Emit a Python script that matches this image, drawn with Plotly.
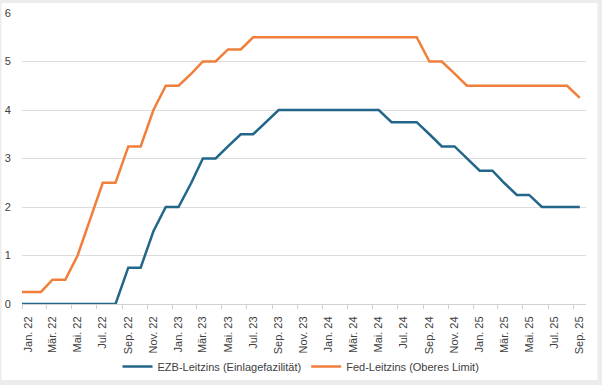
import plotly.graph_objects as go

# ---- data ----
months = [
    "2022-01", "2022-02", "2022-03", "2022-04", "2022-05", "2022-06",
    "2022-07", "2022-08", "2022-09", "2022-10", "2022-11", "2022-12",
    "2023-01", "2023-02", "2023-03", "2023-04", "2023-05", "2023-06",
    "2023-07", "2023-08", "2023-09", "2023-10", "2023-11", "2023-12",
    "2024-01", "2024-02", "2024-03", "2024-04", "2024-05", "2024-06",
    "2024-07", "2024-08", "2024-09", "2024-10", "2024-11", "2024-12",
    "2025-01", "2025-02", "2025-03", "2025-04", "2025-05", "2025-06",
    "2025-07", "2025-08", "2025-09",
]
ezb = [
    0, 0, 0, 0, 0, 0, 0, 0, 0.75, 0.75, 1.5, 2.0,
    2.0, 2.5, 3.0, 3.0, 3.25, 3.5, 3.5, 3.75, 4.0, 4.0, 4.0, 4.0,
    4.0, 4.0, 4.0, 4.0, 4.0, 3.75, 3.75, 3.75, 3.5, 3.25, 3.25, 3.0,
    2.75, 2.75, 2.5, 2.25, 2.25, 2.0, 2.0, 2.0, 2.0,
]
fed = [
    0.25, 0.25, 0.5, 0.5, 1.0, 1.75, 2.5, 2.5, 3.25, 3.25, 4.0, 4.5,
    4.5, 4.75, 5.0, 5.0, 5.25, 5.25, 5.5, 5.5, 5.5, 5.5, 5.5, 5.5,
    5.5, 5.5, 5.5, 5.5, 5.5, 5.5, 5.5, 5.5, 5.0, 5.0, 4.75, 4.5,
    4.5, 4.5, 4.5, 4.5, 4.5, 4.5, 4.5, 4.5, 4.25,
]
tick_months = months[::2]
tick_text = [
    "Jan. 22", "Mär. 22", "Mai. 22", "Jul. 22", "Sep. 22", "Nov. 22",
    "Jan. 23", "Mär. 23", "Mai. 23", "Jul. 23", "Sep. 23", "Nov. 23",
    "Jan. 24", "Mär. 24", "Mai. 24", "Jul. 24", "Sep. 24", "Nov. 24",
    "Jan. 25", "Mär. 25", "Mai. 25", "Jul. 25", "Sep. 25",
]
y_ticks = [0, 1, 2, 3, 4, 5, 6]
name_ezb = "EZB-Leitzins (Einlagefazilität)"
name_fed = "Fed-Leitzins (Oberes Limit)"

# points sit in the middle of each month; the line begins at the axis' left edge
x = [m + "-16" for m in months]
x[0] = months[0] + "-01"

FONT = "Liberation Sans, Arial, sans-serif"
TXT = "#404040"
GRID = "#dcdcdc"
SURROUND = "#ececec"

fig = go.Figure()
fig.add_trace(go.Scatter(x=x, y=ezb, mode="lines", name=name_ezb,
                         line=dict(color="#22668a", width=2.5)))
fig.add_trace(go.Scatter(x=x, y=fed, mode="lines", name=name_fed,
                         line=dict(color="#f07f3c", width=2.5)))

W, H = 602, 385
L, R, T, B = 22, 16, 13, 81
pw, ph = W - L - R, H - T - B

def px_x(p):
    return (p - L) / pw

def px_y(p):
    return (H - p - B) / ph

# light grey surround of the white chart area (thin on the left, wider elsewhere)
for (xa, xb, ya, yb) in [(0, 1.5, 0, H), (597.5, W, 0, H), (0, W, 0, 3), (0, W, 380, H)]:
    fig.add_shape(type="rect", xref="paper", yref="paper", layer="below",
                  x0=px_x(xa), x1=px_x(xb), y0=px_y(yb), y1=px_y(ya),
                  fillcolor=SURROUND, line=dict(width=0))

fig.update_layout(
    width=W, height=H,
    margin=dict(l=L, r=R, t=T, b=B, pad=0, autoexpand=False),
    paper_bgcolor="white",
    plot_bgcolor="white",
    font=dict(family=FONT, size=11, color=TXT),
    showlegend=True,
    legend=dict(orientation="h", x=px_x(301), y=px_y(366.5),
                xanchor="center", yanchor="middle",
                font=dict(family=FONT, size=11, color=TXT),
                bgcolor="rgba(0,0,0,0)", itemwidth=30, tracegroupgap=0),
)
fig.update_xaxes(
    type="date",
    range=["2022-01-01", "2025-10-01"],
    tickmode="array",
    tickvals=[m + "-16" for m in tick_months],
    ticktext=tick_text,
    tickangle=-90,
    ticks="outside", ticklen=7, tickcolor="rgba(0,0,0,0)",
    tickfont=dict(family=FONT, size=11, color=TXT),
    showgrid=False,
    showline=True, linecolor="#d0d0d0", linewidth=1,
    zeroline=False,
    minor=dict(tickmode="array",
               tickvals=[m + "-01" for m in tick_months],
               ticks="outside", ticklen=4, tickcolor="#d0d0d0", tickwidth=1,
               showgrid=False),
)
fig.update_yaxes(
    range=[0, 6],
    tickmode="array", tickvals=y_ticks,
    ticks="outside", ticklen=8, tickcolor="rgba(0,0,0,0)",
    tickfont=dict(family=FONT, size=11, color=TXT),
    showgrid=True, gridcolor=GRID, gridwidth=1,
    zeroline=False, showline=False,
)

# the page's default 8px body margin would shift the chart; remove it
fig.write_html("out.html", config={"displayModeBar": False},
               post_script="document.body.style.margin='0';")
